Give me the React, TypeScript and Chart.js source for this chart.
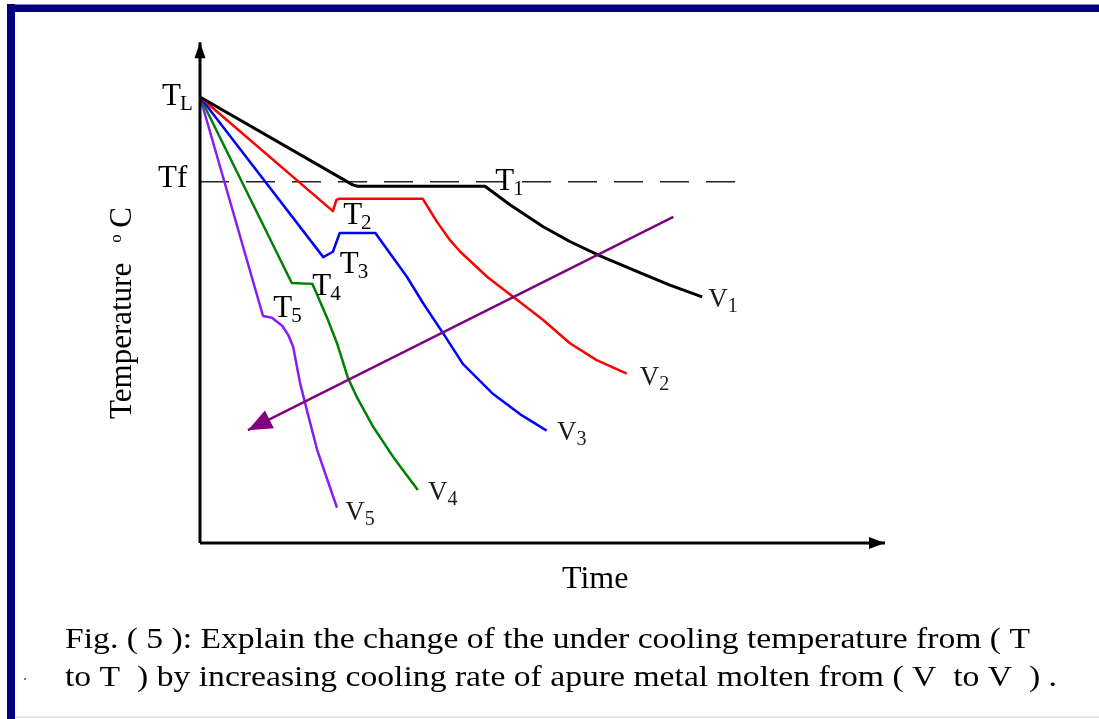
import React, { useEffect, useRef } from 'react';
import { Chart, registerables } from 'chart.js';

Chart.register(...registerables);

// ---------- data ----------
// time units: 0 at the temperature axis, 100 at the tip of the time axis
// temperature units: 0 at the time axis, 100 = TL
const TL_TEMP = 100;
const TF_TEMP = 81;
const TF_END_TIME = 79.6;
const TIME_AXIS_END = 100;
const TEMP_AXIS_END = 112.3;

const v1Time = [0, 22.3, 23.0, 41.6, 45.3, 50.1, 54.0, 58.4, 64.2, 68.6, 73.3];
const v1Temp = [TL_TEMP, 80.3, 80.0, 80.0, 75.8, 70.9, 67.6, 64.4, 60.6, 57.8, 55.2];

const v2Time = [0, 19.4, 19.9, 20.4, 32.5, 34.6, 36.5, 38.0, 41.9, 45.7, 50.1, 54.0, 57.9, 62.3];
const v2Temp = [TL_TEMP, 74.4, 76.9, 77.2, 77.2, 72.0, 67.9, 65.3, 59.7, 55.2, 50.0, 44.8, 41.0, 38.0];

const v3Time = [0, 18.0, 19.4, 20.4, 25.6, 27.7, 30.2, 32.6, 35.5, 38.4, 42.8, 46.7, 50.6];
const v3Temp = [TL_TEMP, 64.1, 65.3, 69.5, 69.5, 65.0, 59.7, 53.7, 47.0, 40.1, 33.4, 28.9, 25.2];

const v4Time = [0, 13.4, 16.4, 16.8, 18.5, 20.0, 21.6, 22.9, 25.3, 28.2, 31.8];
const v4Temp = [TL_TEMP, 58.3, 58.1, 56.7, 50.7, 44.8, 37.0, 32.7, 26.0, 19.3, 11.9];

const v5Time = [0, 9.2, 10.5, 12.0, 12.9, 13.6, 14.6, 15.6, 17.1, 20.0];
const v5Temp = [TL_TEMP, 50.9, 50.5, 48.7, 46.6, 44.0, 35.9, 29.8, 20.9, 7.9];

const arrowTime = [69.1, 7.0];
const arrowTemp = [73.1, 25.3];

// curve labels: main text, subscript, anchor (time, temperature)
const tLabelText = ['T', 'T', 'T', 'T', 'T', 'T'];
const tLabelSub = ['L', '1', '2', '3', '4', '5'];
const tLabelTime = [-5.55, 43.1, 20.9, 20.4, 16.4, 10.7];
const tLabelTemp = [98.2, 79.15, 71.5, 60.5, 55.6, 50.7];

const vLabelSub = ['1', '2', '3', '4', '5'];
const vLabelTime = [74.2, 64.2, 52.1, 33.3, 21.2];
const vLabelTemp = [52.9, 35.4, 23.1, 9.6, 5.2];

const TF_LABEL = 'Tf';
const X_TITLE = 'Time';
const Y_TITLE = 'Temperature';
const CAPTION_1 = 'Fig. ( 5 ): Explain the change of the under cooling temperature from ( T';
const CAPTION_2 = 'to T  ) by increasing cooling rate of apure metal molten from ( V  to V  ) .';

// ---------- layout ----------
const W = 1099;
const H = 719;
const PX_PER_TIME = 6.85;
const PX_PER_TEMP = 4.46;
const ORIGIN_X = 200;
const ORIGIN_Y = 543;
const X_MIN = -ORIGIN_X / PX_PER_TIME;
const X_MAX = (W - ORIGIN_X) / PX_PER_TIME;
const Y_MIN = -(H - ORIGIN_Y) / PX_PER_TEMP;
const Y_MAX = ORIGIN_Y / PX_PER_TEMP;

const SERIF = '"Liberation Serif", "Times New Roman", Times, serif';

const pts = (t: number[], v: number[]) => t.map((x, i) => ({ x, y: v[i] }));

const line = (t: number[], v: number[], color: string, width: number, extra: any = {}) => ({
  data: pts(t, v),
  borderColor: color,
  backgroundColor: color,
  borderWidth: width,
  pointRadius: 0,
  showLine: true,
  tension: 0,
  fill: false,
  borderJoinStyle: 'round',
  ...extra,
});

function head(ctx: CanvasRenderingContext2D, tx: number, ty: number, fx: number, fy: number, len: number, half: number, color: string) {
  const a = Math.atan2(ty - fy, tx - fx);
  ctx.save();
  ctx.translate(tx, ty);
  ctx.rotate(a);
  ctx.beginPath();
  ctx.moveTo(0, 0);
  ctx.lineTo(-len, -half);
  ctx.lineTo(-len, half);
  ctx.closePath();
  ctx.fillStyle = color;
  ctx.fill();
  ctx.restore();
}

const annotate = {
  id: 'annotate',
  afterDatasetsDraw(chart: any) {
    const ctx: CanvasRenderingContext2D = chart.ctx;
    const xs = chart.scales.x;
    const ys = chart.scales.y;
    const px = (t: number) => xs.getPixelForValue(t);
    const py = (v: number) => ys.getPixelForValue(v);
    ctx.save();

    // arrow heads
    head(ctx, px(0), py(TEMP_AXIS_END), px(0), py(0), 16, 5.5, '#000');
    head(ctx, px(TIME_AXIS_END), py(0), px(0), py(0), 16, 6, '#000');
    head(ctx, px(arrowTime[1]), py(arrowTemp[1]), px(arrowTime[0]), py(arrowTemp[0]), 24, 10, '#800080');

    ctx.textAlign = 'left';
    ctx.textBaseline = 'alphabetic';

    // T labels
    ctx.fillStyle = '#000';
    tLabelText.forEach((txt, i) => {
      const x = px(tLabelTime[i]);
      const y = py(tLabelTemp[i]);
      ctx.font = `31px ${SERIF}`;
      ctx.fillText(txt, x, y);
      const w = ctx.measureText(txt).width;
      ctx.font = `21px ${SERIF}`;
      ctx.fillText(tLabelSub[i], x + w - 1, y + 5);
    });
    ctx.font = `31px ${SERIF}`;
    ctx.fillText(TF_LABEL, px(-6.13), py(79.8));

    // V labels
    ctx.fillStyle = '#1a1a1a';
    vLabelSub.forEach((s, i) => {
      const x = px(vLabelTime[i]);
      const y = py(vLabelTemp[i]);
      ctx.font = `27px ${SERIF}`;
      ctx.fillText('V', x, y);
      const w = ctx.measureText('V').width;
      ctx.font = `20px ${SERIF}`;
      ctx.fillText(s, x + w, y + 5);
    });

    // axis titles
    ctx.fillStyle = '#000';
    ctx.font = `32px ${SERIF}`;
    ctx.textAlign = 'center';
    ctx.fillText(X_TITLE, px(57.7), py(-10.1));
    ctx.textAlign = 'left';

    ctx.save();
    ctx.translate(px(-10.07), py(27.8));
    ctx.rotate(-Math.PI / 2);
    ctx.font = `31px ${SERIF}`;
    ctx.fillText(Y_TITLE, 0, 0);
    const tw = ctx.measureText(Y_TITLE).width;
    ctx.font = `17px ${SERIF}`;
    ctx.fillText('o', tw + 20, -10);
    ctx.font = `31px ${SERIF}`;
    ctx.fillText('C', tw + 35, 0);
    ctx.restore();

    // caption
    const cap = (s: string, x: number, y: number, width: number) => {
      ctx.font = `30px ${SERIF}`;
      const m = ctx.measureText(s).width;
      ctx.save();
      ctx.translate(x, y);
      ctx.scale(width / m, 1);
      ctx.fillText(s, 0, 0);
      ctx.restore();
    };
    cap(CAPTION_1, 65, 648, 965);
    cap(CAPTION_2, 65, 686, 992);
    ctx.font = `16px ${SERIF}`;
    ctx.fillStyle = '#555';
    ctx.fillText('.', 23, 680);

    ctx.restore();
  },
};

export default function App() {
  const ref = useRef<HTMLCanvasElement | null>(null);

  useEffect(() => {
    if (!ref.current) return;
    const chart = new Chart(ref.current, {
      type: 'scatter',
      data: {
        datasets: [
          line([0, 0], [0, TEMP_AXIS_END], '#000', 3) as any,
          line([0, TIME_AXIS_END], [0, 0], '#000', 3) as any,
          line(arrowTime, arrowTemp, '#800080', 2.5) as any,
          line(v1Time, v1Temp, '#000000', 3) as any,
          line(v2Time, v2Temp, '#ff0000', 2.5) as any,
          line(v3Time, v3Temp, '#0000ff', 2.5) as any,
          line(v4Time, v4Temp, '#008000', 2.5) as any,
          line(v5Time, v5Temp, '#8a1cf0', 2.5) as any,
          line([0, TF_END_TIME], [TF_TEMP, TF_TEMP], '#222', 1.5, { borderDash: [29, 17] }) as any,
        ],
      },
      options: {
        responsive: false,
        maintainAspectRatio: false,
        animation: false,
        events: [],
        layout: { padding: 0 },
        plugins: {
          legend: { display: false },
          tooltip: { enabled: false },
          title: { display: false },
        },
        scales: {
          x: { type: 'linear', display: false, min: X_MIN, max: X_MAX },
          y: { type: 'linear', display: false, min: Y_MIN, max: Y_MAX },
        },
      },
      plugins: [annotate as any],
    });
    return () => chart.destroy();
  }, []);

  return (
    <div style={{ position: 'fixed', left: 0, top: 0, width: W, height: H, background: '#fff', overflow: 'hidden' }}>
      <canvas ref={ref} width={W} height={H} style={{ position: 'absolute', left: 0, top: 0, width: W, height: H }} />
      <div style={{ position: 'absolute', left: 7, top: 4, right: 0, height: 8, background: '#000080', borderTop: '1px solid #8080c0', boxSizing: 'border-box' }} />
      <div style={{ position: 'absolute', left: 7, top: 4, width: 8, bottom: 0, background: '#000080' }} />
      <div style={{ position: 'absolute', left: 15, right: 0, top: 716, height: 2, background: '#e4e4ee' }} />
    </div>
  );
}
